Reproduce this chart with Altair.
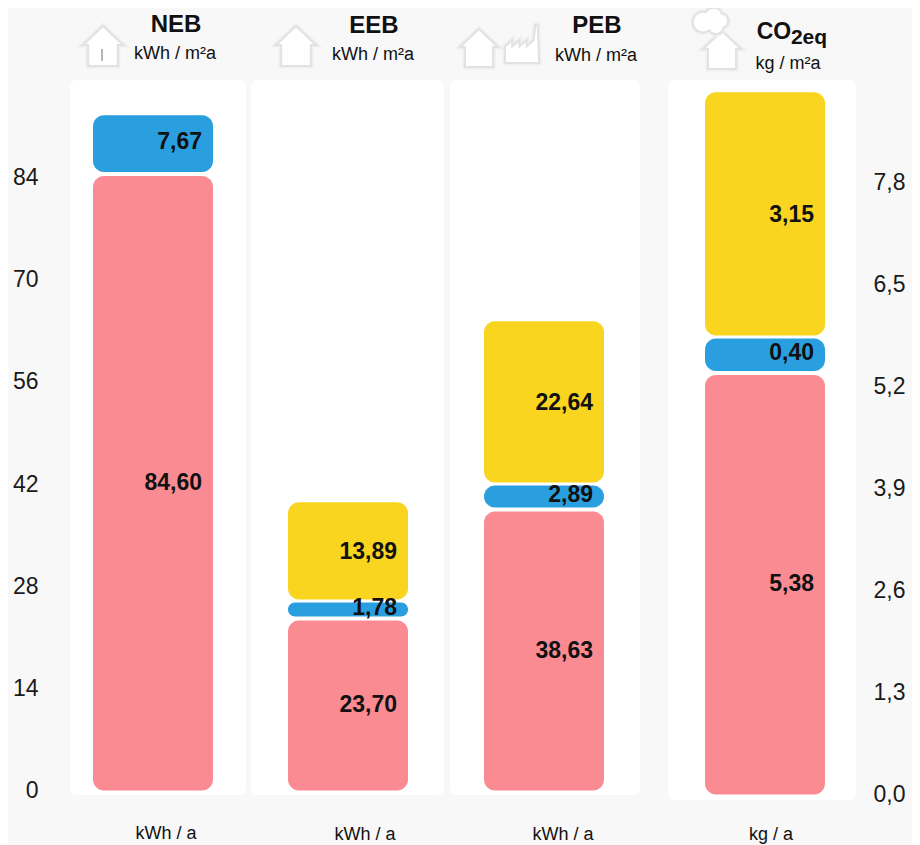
import altair as alt
import pandas as pd

# ---- data
left_groups = ["NEB", "EEB", "PEB"]
left_slots = [0, 1, 2]
left_red = [84.60, 23.70, 38.63]
left_blue = [7.67, 1.78, 2.89]
left_yellow = [None, 13.89, 22.64]

right_groups = ["CO2eq"]
right_slots = [3]
right_red = [5.38]
right_blue = [0.40]
right_yellow = [3.15]

left_ticks = [0, 14, 28, 42, 56, 70, 84]
right_ticks = [0.0, 1.3, 2.6, 3.9, 5.2, 6.5, 7.8]

RED, BLUE, YELLOW = "#fb8b93", "#2a9fe0", "#f9d51f"
FONT = "Liberation Sans"
W, H = 815, 720
PAD_L, PAD_T = 42, 72
OX, OY = PAD_L + 8, PAD_T + 8   # page position of the plot origin


def px(v):
    return alt.value(v - OX)


def py(v):
    return alt.value(v - OY)


x_scale = alt.Scale(domain=[0, 1, 2, 3], range=[103, 298, 494, 715], padding=0)
X = alt.X("slot:Q", scale=x_scale, axis=None)


def frames(groups, slots, red, blue, yellow):
    rows = []
    for g, s, r, b, y in zip(groups, slots, red, blue, yellow):
        rows.append(dict(group=g, slot=s, part="red", bottom=0, top=r, value=r))
        rows.append(dict(group=g, slot=s, part="blue", bottom=r, top=r + b, value=b))
        if y is not None:
            rows.append(dict(group=g, slot=s, part="yellow", bottom=r + b, top=r + b + y, value=y))
    df = pd.DataFrame(rows)
    df["mid"] = (df["bottom"] + df["top"]) / 2
    df["label"] = df["value"].map(lambda v: f"{v:.2f}".replace(".", ","))
    return df


def group_layer(df, y_scale, axis):
    layers = []
    specs = [("red", RED, 3, 0), ("blue", BLUE, -2, -1), ("yellow", YELLOW, -1, -5)]
    first = True
    for part, colour, top_off, bot_off in specs:
        layers.append(
            alt.Chart(df[df.part == part])
            .mark_bar(width=120, cornerRadius=11, color=colour, orient="vertical",
                      yOffset=top_off, y2Offset=bot_off)
            .encode(x=X,
                    y=alt.Y("top:Q", scale=y_scale, axis=axis if first else None, title=None),
                    y2=alt.Y2("bottom:Q"))
        )
        first = False
    for part, off in [("red", 1), ("blue", -3), ("yellow", -2)]:
        layers.append(
            alt.Chart(df[df.part == part])
            .mark_text(align="right", baseline="middle", dx=49, dy=off, font=FONT,
                       fontWeight="bold", fontSize=23, color="#111111")
            .encode(x=X, y=alt.Y("mid:Q", scale=y_scale, axis=None), text="label:N")
        )
    return layers


left_df = frames(left_groups, left_slots, left_red, left_blue, left_yellow)
right_df = frames(right_groups, right_slots, right_red, right_blue, right_yellow)

left_scale = alt.Scale(domain=[0, 84], range=[710.5, 97.5])
right_scale = alt.Scale(domain=[0, 7.8], range=[714.5, 102])

left_axis = alt.Axis(values=left_ticks, orient="left", domain=False, ticks=False, grid=False,
                     labelFont=FONT, labelFontSize=23, labelColor="#1a1a1a", labelPadding=12,
                     labelOverlap=False, labelFlush=False)
right_axis = alt.Axis(values=right_ticks, orient="right", domain=False, ticks=False, grid=False,
                      labelFont=FONT, labelFontSize=23, labelColor="#1a1a1a", labelPadding=8,
                      labelOverlap=False, labelFlush=False,
                      labelExpr="replace(format(datum.value, '.1f'), '.', ',')")

# ---- decoration: white columns behind the bars
blank = alt.Data(values=[{"a": 1}])
bands = []
for a, b, t, u in [(70, 246, 80, 795), (251, 444, 80, 795), (450, 640, 80, 795), (668, 856, 80, 800)]:
    bands.append(
        alt.Chart(blank).mark_rect(color="white", cornerRadius=6)
        .encode(x=px(a), x2=px(b), y=py(t), y2=py(u))
    )

# ---- header icons
HOUSE = "M0,-1 L1,-0.05 L0.74,-0.05 L0.74,1 L-0.74,1 L-0.74,-0.05 L-1,-0.05 Z"
FACTORY = ("M-1,1 L-1,0.12 L-0.62,-0.2 L-0.62,0.12 L-0.24,-0.2 L-0.24,0.12 L0.14,-0.2 L0.14,0.12 "
           "L0.5,-0.2 L0.6,-1 L0.72,-1 L0.8,1 Z")
CLOUD = ("M-1,0 C-1,-0.5 -0.6,-0.7 -0.3,-0.6 C-0.1,-0.95 0.5,-0.95 0.6,-0.5 C1,-0.5 1.1,0.1 0.7,0.25 "
         "C0.6,0.7 0.1,0.7 -0.1,0.4 C-0.5,0.7 -1,0.4 -1,0 Z")
icons = [
    (HOUSE, 103, 46, 40), (HOUSE, 296, 46, 40), (HOUSE, 479, 48, 38),
    (FACTORY, 524, 44, 38), (HOUSE, 722, 50, 38), (CLOUD, 711, 23, 36),
]
icon_layers = []
for path, cx, cy, d in icons:
    for stroke, sw in [("#efefef", 5), ("#e2e2e2", 2)]:
        icon_layers.append(
            alt.Chart(blank).mark_point(shape=path, size=d * d, filled=True, fill="white",
                                        stroke=stroke, strokeWidth=sw, opacity=1)
            .encode(x=px(cx), y=py(cy))
        )
icon_layers.append(
    alt.Chart(blank).mark_point(shape="M0,-1 L0,1", size=144, stroke="#b5b5b5", strokeWidth=2,
                                filled=False, opacity=1)
    .encode(x=px(102), y=py(55))
)

# ---- header and footer text
texts = [
    ("NEB", 176, 25, 24, "bold"), ("EEB", 374, 26, 24, "bold"), ("PEB", 597, 26, 24, "bold"),
    ("kWh / m²a", 175, 54, 18, "normal"), ("kWh / m²a", 373, 55, 18, "normal"),
    ("kWh / m²a", 596, 56, 18, "normal"), ("kg / m²a", 788, 64, 18, "normal"),
    ("kWh / a", 166, 834, 18, "normal"), ("kWh / a", 365, 835, 18, "normal"),
    ("kWh / a", 563, 835, 18, "normal"), ("kg / a", 771, 835, 18, "normal"),
    ("CO", 774, 32, 23, "bold"), ("2eq", 809, 38, 21, "bold"),
]
text_layers = [
    alt.Chart(blank).mark_text(text=t, font=FONT, fontSize=s, fontWeight=w, color="#111111",
                               align="center", baseline="middle")
    .encode(x=px(cx), y=py(cy))
    for t, cx, cy, s, w in texts
]

chart = (
    alt.layer(*bands, *icon_layers, *text_layers,
              *group_layer(left_df, left_scale, left_axis),
              *group_layer(right_df, right_scale, right_axis))
    .resolve_scale(y="independent")
    .properties(width=W, height=H, background="#f8f8f8",
                padding={"left": PAD_L, "top": PAD_T, "right": 47, "bottom": 45},
                autosize=alt.AutoSizeParams(type="none"))
    .configure_view(stroke=None)
)

chart.save("out.html", embed_options={"renderer": "svg", "actions": False})
